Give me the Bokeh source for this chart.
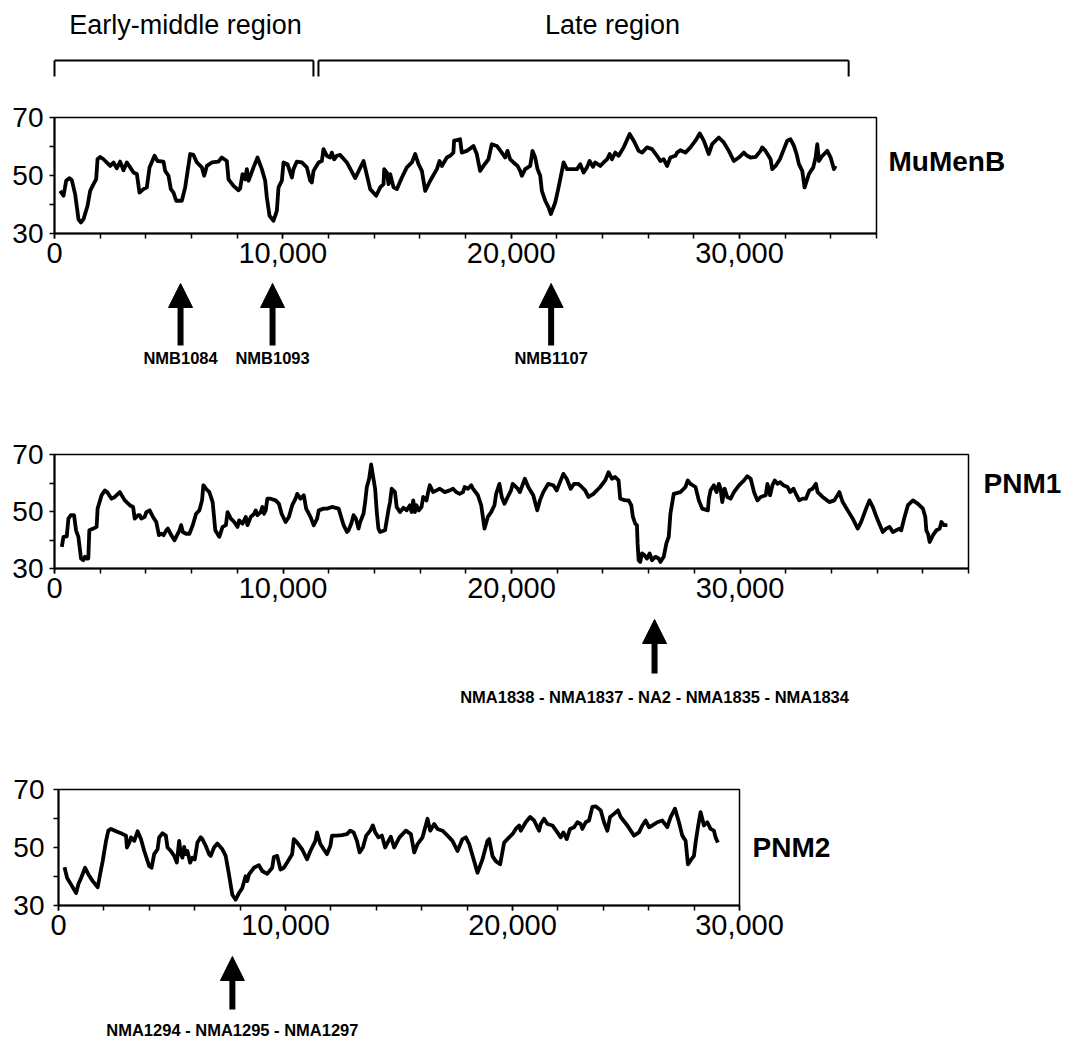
from bokeh.plotting import figure
from bokeh.layouts import column
from bokeh.models import (Range1d, FixedTicker, NumeralTickFormatter, Arrow, NormalHead,
                          LinearAxis)
from bokeh.embed import file_html
from bokeh.resources import INLINE
from bokeh.core.properties import value

# ---------------- data ----------------
x_major = [0, 10000, 20000, 30000]
y_major = [30, 50, 70]
y_minor = [40, 60]

mumenb_pos = [
    248, 394, 511, 657, 759, 905, 1051, 1153, 1270, 1445,
    1562, 1708, 1825, 1883, 2000, 2146, 2438, 2584, 2730, 2876,
    3022, 3168, 3314, 3460, 3606, 3723, 3898, 4044, 4161, 4380,
    4511, 4774, 4847, 4993, 5095, 5212, 5329, 5577, 5723, 5942,
    6088, 6234, 6453, 6555, 6672, 6891, 7183, 7329, 7548, 7621,
    7840, 8059, 8132, 8234, 8351, 8424, 8497, 8716, 8891, 9081,
    9227, 9300, 9417, 9592, 9738, 9811, 9957, 10030, 10205, 10395,
    10468, 10614, 10833, 11052, 11198, 11271, 11344, 11563, 11709, 11782,
    11928, 12074, 12147, 12249, 12366, 12512, 12804, 13169, 13534, 13826,
    14089, 14264, 14410, 14439, 14556, 14629, 14702, 14848, 14994, 15213,
    15432, 15651, 15797, 15943, 16089, 16235, 16454, 16746, 16863, 16965,
    17184, 17330, 17470, 17500, 17617, 17763, 17836, 18055, 18275, 18348,
    18494, 18640, 18786, 19006, 19152, 19371, 19590, 19737, 19839, 19956,
    20102, 20277, 20394, 20468, 20614, 20833, 20935, 21052, 21155, 21272,
    21345, 21491, 21637, 21739, 21930, 22076, 22222, 22295, 22441, 22880,
    23026, 23172, 23318, 23435, 23582, 23684, 23903, 24049, 24196, 24313,
    24415, 24561, 24707, 24927, 25190, 25365, 25584, 25731, 25950, 26169,
    26388, 26535, 26681, 26827, 26973, 27193, 27266, 27412, 27631, 27851,
    28070, 28260, 28435, 28654, 28801, 29093, 29312, 29532, 29751, 29970,
    30190, 30336, 30482, 30702, 30921, 30994, 31140, 31360, 31433, 31579,
    31769, 31944, 32090, 32237, 32383, 32500, 32602, 32748, 32851, 33041,
    33231, 33333, 33406, 33480, 33626, 33772, 33845, 33991, 34137, 34210,
]
mumenb_gc = [
    44.7, 43.0, 48.2, 49.1, 48.4, 43.5, 34.9, 33.8, 34.9, 39.5,
    44.7, 47.0, 48.7, 55.6, 56.4, 55.6, 53.3, 54.5, 52.5, 54.8,
    51.8, 54.5, 52.8, 51.0, 50.5, 44.1, 45.3, 45.9, 52.8, 56.8,
    55.0, 54.8, 51.6, 49.9, 45.3, 44.1, 41.3, 41.3, 45.9, 57.4,
    57.1, 54.5, 52.8, 49.9, 53.3, 54.5, 54.8, 56.2, 55.0, 48.7,
    46.4, 44.9, 45.6, 50.5, 48.7, 52.2, 48.2, 52.8, 56.2, 52.2,
    48.2, 42.4, 36.1, 34.4, 37.8, 45.9, 48.2, 54.5, 53.9, 49.3,
    52.2, 54.8, 54.5, 52.8, 48.2, 47.6, 51.6, 54.5, 55.0, 59.1,
    56.8, 56.2, 57.9, 55.6, 56.8, 57.1, 54.5, 49.1, 55.0, 45.3,
    43.0, 45.9, 47.0, 52.2, 51.0, 47.0, 50.5, 45.9, 45.3, 49.3,
    52.8, 54.5, 57.4, 53.9, 51.6, 44.7, 48.2, 52.2, 55.0, 53.3,
    56.2, 56.8, 57.9, 62.0, 62.2, 62.5, 57.9, 58.5, 59.7, 60.2,
    57.4, 51.6, 53.3, 55.6, 60.8, 60.2, 57.9, 56.2, 58.5, 55.6,
    54.5, 53.3, 51.6, 49.9, 52.2, 53.3, 58.5, 56.2, 52.2, 49.9,
    44.7, 41.3, 39.0, 36.7, 40.7, 45.9, 51.6, 54.5, 52.2, 52.2,
    53.9, 51.0, 52.8, 55.0, 53.0, 54.5, 53.3, 54.5, 55.6, 57.4,
    55.6, 57.9, 56.8, 59.7, 64.3, 62.0, 58.5, 57.9, 59.7, 59.1,
    56.8, 55.0, 55.6, 53.3, 56.2, 56.8, 57.9, 58.7, 57.9, 59.7,
    62.0, 64.5, 62.0, 57.4, 60.8, 63.1, 61.4, 58.5, 55.0, 56.2,
    57.9, 56.8, 56.2, 56.4, 58.5, 59.7, 58.5, 55.6, 52.2, 53.3,
    55.6, 59.1, 62.0, 62.5, 60.2, 57.4, 53.9, 51.6, 45.9, 50.5,
    52.8, 56.2, 60.8, 55.0, 56.8, 57.9, 58.5, 56.2, 52.2, 53.3,
]

pnm1_pos = [
    319, 392, 537, 609, 711, 856, 943, 1045, 1117, 1161,
    1262, 1335, 1407, 1480, 1524, 1698, 1843, 1886, 2060, 2206,
    2307, 2496, 2641, 2858, 3076, 3294, 3439, 3511, 3657, 3729,
    3802, 3947, 4019, 4164, 4309, 4455, 4571, 4672, 4774, 4890,
    4962, 5108, 5253, 5325, 5470, 5543, 5615, 5760, 5906, 6051,
    6196, 6341, 6457, 6515, 6631, 6776, 6921, 7037, 7211, 7357,
    7502, 7574, 7719, 7864, 8010, 8082, 8227, 8372, 8445, 8590,
    8735, 8807, 8880, 9025, 9098, 9170, 9243, 9315, 9461, 9678,
    9823, 9939, 10113, 10258, 10404, 10549, 10621, 10766, 10912, 11013,
    11202, 11347, 11492, 11565, 11782, 11927, 12145, 12435, 12653, 12798,
    12870, 12986, 13088, 13190, 13306, 13378, 13523, 13596, 13668, 13770,
    13857, 13959, 14031, 14104, 14176, 14249, 14466, 14539, 14612, 14684,
    14757, 14902, 14974, 15119, 15265, 15410, 15555, 15627, 15700, 15772,
    15845, 15946, 16063, 16135, 16280, 16353, 16425, 16570, 16716, 16861,
    17078, 17296, 17441, 17586, 17731, 17876, 17949, 18094, 18239, 18312,
    18529, 18674, 18819, 18964, 19110, 19255, 19327, 19472, 19574, 19690,
    19835, 19980, 20052, 20197, 20270, 20366, 20586, 20732, 20952, 21127,
    21244, 21391, 21610, 21830, 21976, 22123, 22269, 22416, 22591, 22738,
    22928, 23074, 23221, 23367, 23587, 23880, 24099, 24246, 24392, 24538,
    24685, 24758, 24978, 25124, 25241, 25314, 25417, 25490, 25519, 25563,
    25636, 25710, 25812, 25929, 26046, 26149, 26295, 26442, 26515, 26661,
    26778, 26881, 26954, 27100, 27393, 27613, 27715, 27832, 28052, 28198,
    28345, 28594, 28638, 28711, 28857, 28974, 29077, 29150, 29223, 29326,
    29443, 29589, 29736, 29955, 30175, 30321, 30468, 30614, 30760, 30907,
    31126, 31200, 31317, 31419, 31522, 31639, 31756, 31902, 32078, 32195,
    32342, 32444, 32517, 32590, 32737, 32883, 33030, 33176, 33322, 33396,
    33615, 33908, 34128, 34347, 34494, 34713, 34933, 35152, 35299, 35518,
    35665, 35811, 36031, 36250, 36397, 36543, 36690, 36836, 36982, 37056,
    37202, 37349, 37568, 37788, 38007, 38110, 38154, 38227, 38300, 38447,
    38593, 38740, 38813, 38930, 39076,
]
pnm1_gc = [
    37.6, 41.1, 41.3, 47.5, 48.7, 48.7, 43.4, 41.1, 36.4, 33.5,
    32.9, 34.1, 33.5, 33.5, 43.4, 44.0, 44.6, 51.0, 55.7, 57.4,
    56.8, 54.5, 55.1, 56.8, 53.9, 52.2, 51.6, 47.5, 48.7, 48.7,
    47.5, 48.1, 49.8, 50.4, 48.1, 46.3, 41.7, 42.2, 41.7, 43.4,
    44.0, 41.7, 39.9, 41.1, 43.4, 45.2, 42.8, 42.2, 42.2, 45.2,
    49.2, 50.4, 53.9, 59.2, 58.0, 56.8, 53.3, 43.4, 41.1, 44.6,
    45.2, 49.8, 47.5, 46.3, 44.6, 46.9, 45.7, 48.1, 45.2, 48.1,
    49.2, 50.4, 48.7, 49.8, 51.6, 49.2, 50.4, 54.5, 54.5, 53.9,
    52.7, 49.2, 46.3, 48.1, 52.2, 54.5, 56.2, 54.5, 55.7, 51.0,
    48.1, 45.2, 47.5, 50.4, 51.0, 51.0, 51.6, 51.0, 45.2, 42.8,
    43.4, 45.7, 48.7, 47.5, 44.0, 46.3, 49.2, 53.3, 58.6, 61.5,
    66.5, 61.5, 58.0, 49.8, 44.0, 42.8, 43.4, 46.9, 50.4, 53.3,
    58.0, 56.8, 51.6, 49.8, 51.3, 50.4, 52.2, 49.8, 53.9, 49.8,
    52.2, 50.4, 51.6, 55.1, 53.9, 56.8, 59.2, 56.8, 57.4, 58.0,
    56.8, 57.4, 58.0, 56.8, 56.2, 56.8, 58.6, 58.0, 59.2, 58.0,
    55.7, 52.2, 44.0, 48.1, 49.8, 52.2, 56.2, 59.7, 55.1, 52.7,
    55.1, 57.4, 59.7, 58.6, 58.0, 56.8, 61.5, 58.6, 55.7, 50.4,
    53.9, 56.8, 59.7, 59.2, 57.4, 60.3, 63.2, 61.5, 58.0, 59.7,
    59.7, 58.6, 57.4, 55.1, 56.2, 58.6, 60.9, 63.8, 61.5, 62.1,
    60.9, 54.5, 53.9, 53.9, 52.2, 48.1, 45.7, 45.2, 38.8, 32.9,
    32.3, 35.3, 34.7, 33.5, 35.3, 32.9, 34.1, 33.5, 32.3, 34.1,
    38.8, 41.1, 49.2, 56.2, 56.8, 58.6, 60.9, 59.7, 58.6, 53.9,
    51.0, 50.4, 54.5, 57.4, 59.2, 56.8, 59.7, 58.0, 53.3, 58.0,
    55.1, 54.5, 56.8, 59.2, 60.9, 62.4, 61.5, 56.8, 53.9, 55.1,
    55.7, 59.7, 55.7, 59.2, 60.9, 59.7, 60.3, 59.2, 58.6, 56.8,
    58.0, 56.2, 55.1, 53.9, 54.5, 54.5, 57.4, 58.0, 59.7, 56.8,
    55.1, 53.3, 53.9, 56.8, 53.3, 50.4, 47.5, 44.0, 46.3, 51.0,
    53.9, 51.6, 46.9, 42.8, 44.0, 44.6, 42.8, 43.4, 44.0, 43.4,
    48.1, 52.2, 53.9, 52.7, 51.0, 48.1, 43.4, 42.2, 39.3, 41.7,
    43.4, 44.0, 46.3, 45.2, 45.2,
]

pnm2_pos = [
    264, 381, 556, 776, 878, 996, 1171, 1318, 1508, 1728,
    1845, 1947, 2094, 2196, 2313, 2533, 2752, 2972, 3016, 3118,
    3192, 3338, 3484, 3631, 3777, 3997, 4099, 4216, 4363, 4436,
    4582, 4729, 4802, 4948, 5095, 5212, 5314, 5388, 5461, 5534,
    5607, 5680, 5797, 5900, 6002, 6120, 6266, 6339, 6486, 6632,
    6705, 6852, 6998, 7218, 7364, 7510, 7657, 7803, 7950, 8096,
    8242, 8316, 8389, 8608, 8828, 8974, 9194, 9414, 9487, 9633,
    9780, 9926, 10072, 10292, 10365, 10512, 10731, 10951, 11097, 11317,
    11390, 11536, 11683, 11829, 11976, 12049, 12268, 12488, 12708, 12854,
    13000, 13147, 13264, 13410, 13557, 13732, 13849, 13952, 14098, 14245,
    14391, 14538, 14640, 14786, 15021, 15303, 15523, 15670, 15817, 16037,
    16257, 16374, 16550, 16697, 16917, 17137, 17357, 17577, 17797, 17944,
    18091, 18311, 18457, 18677, 18897, 18971, 19117, 19264, 19455, 19631,
    19851, 19998, 20144, 20291, 20364, 20584, 20775, 20951, 21171, 21245,
    21391, 21538, 21758, 21978, 22125, 22242, 22389, 22536, 22712, 22858,
    23005, 23078, 23225, 23372, 23518, 23665, 23885, 24032, 24179, 24296,
    24472, 24648, 24765, 25059, 25352, 25572, 25719, 25866, 26012, 26159,
    26379, 26599, 26819, 26966, 27157, 27333, 27480, 27626, 27729, 27876,
    27993, 28066, 28169, 28286, 28360, 28433, 28580, 28726, 28873, 28946,
    29049,
]
pnm2_gc = [
    43.2, 39.5, 37.2, 34.3, 37.4, 39.5, 43.0, 40.7, 38.4, 36.3,
    41.3, 45.3, 52.3, 55.8, 56.4, 55.6, 54.9, 54.1, 50.0, 51.7,
    53.5, 52.3, 55.6, 52.9, 48.8, 43.6, 43.0, 47.7, 49.4, 53.5,
    54.9, 54.1, 50.0, 48.8, 47.1, 44.8, 52.3, 47.7, 46.5, 50.2,
    47.7, 48.8, 44.8, 46.5, 45.9, 51.7, 53.5, 52.9, 50.6, 47.7,
    47.1, 50.0, 51.4, 49.4, 47.1, 40.7, 33.7, 32.0, 34.3, 36.0,
    40.1, 38.4, 40.7, 43.0, 43.9, 41.9, 40.9, 43.0, 46.7, 47.1,
    42.4, 43.0, 44.8, 47.7, 52.9, 51.7, 49.4, 45.9, 48.8, 52.3,
    55.2, 51.2, 49.4, 47.7, 50.6, 54.1, 54.1, 54.3, 54.6, 55.8,
    55.2, 52.3, 48.3, 50.0, 54.1, 55.8, 57.6, 55.2, 53.5, 54.1,
    50.0, 52.3, 53.7, 50.0, 53.5, 55.8, 54.6, 48.3, 51.2, 53.5,
    59.9, 55.8, 58.1, 56.4, 55.8, 54.1, 52.3, 48.8, 52.9, 53.5,
    51.2, 45.3, 41.3, 45.9, 52.3, 52.9, 47.1, 45.3, 44.2, 51.7,
    53.5, 54.6, 56.4, 57.6, 55.8, 58.7, 60.5, 59.3, 55.8, 58.1,
    59.9, 58.1, 57.6, 55.2, 53.5, 55.2, 52.9, 56.4, 57.0, 58.7,
    58.1, 56.4, 58.7, 59.3, 64.0, 64.2, 62.8, 58.7, 55.8, 60.5,
    61.6, 62.8, 60.5, 57.6, 54.1, 55.2, 57.6, 59.3, 57.0, 57.6,
    58.7, 59.3, 57.0, 60.5, 63.4, 58.7, 54.1, 52.3, 44.2, 45.9,
    47.1, 51.7, 57.0, 62.2, 59.9, 57.6, 58.7, 56.4, 55.8, 53.5,
    51.7,
]

region_names = ["Early-middle region", "Late region"]
region_start = [0, 11560]
region_end = [11340, 34780]
region_label_x = [5740, 24440]

mumenb_genes = ["NMB1084", "NMB1093", "NMB1107"]
mumenb_gene_pos = [5520, 9550, 21750]
pnm1_genes = ["NMA1838 - NMA1837 - NA2 - NMA1835 - NMA1834"]
pnm1_gene_pos = [26260]
pnm2_genes = ["NMA1294 - NMA1295 - NMA1297"]
pnm2_gene_pos = [7660]

# ---------------- styling ----------------
FONT = "Liberation Sans"


def base_fig(fw, fh, xr, yr, left, right, top, bottom, axes=True):
    kw = dict(frame_width=fw, frame_height=fh, x_range=xr, y_range=yr, output_backend="svg",
              toolbar_location=None, title=None, min_border_left=left, min_border_right=right,
              min_border_top=top, min_border_bottom=bottom)
    if not axes:
        kw.update(x_axis_type=None, y_axis_type=None)
    p = figure(**kw)
    if hasattr(p, "frame_align"):
        p.frame_align = False   # keep each figure's own borders inside the column
    p.grid.visible = False
    p.background_fill_color = "white"
    p.border_fill_color = "white"
    if not axes:
        p.outline_line_color = None
    return p


def panel(pos, gc, xmax, left, fw, right, top, fh, bottom, name, name_y, name_pad, ylab_pad):
    p = base_fig(fw, fh, Range1d(0, xmax), Range1d(30, 70), left, right, top, bottom)
    p.outline_line_color = "black"
    p.outline_line_width = 1.5
    p.line(pos, gc, line_color="black", line_width=3.8, line_join="round")
    xa = p.xaxis[0]
    xa.ticker = FixedTicker(ticks=[t for t in x_major if t <= xmax],
                            minor_ticks=list(range(0, xmax + 1, 2000)))
    xa.formatter = NumeralTickFormatter(format="0,0")
    ya = p.yaxis[0]
    ya.ticker = FixedTicker(ticks=y_major, minor_ticks=y_minor)
    for ax in (xa, ya):
        ax.axis_line_color = "black"
        ax.axis_line_width = 2
        ax.major_tick_line_color = "black"
        ax.minor_tick_line_color = "black"
        ax.major_tick_line_width = 1.5
        ax.minor_tick_line_width = 1.5
        ax.major_tick_in = 0
        ax.minor_tick_in = 0
        ax.major_tick_out = 5
        ax.minor_tick_out = 5
        ax.major_label_text_font = FONT
        ax.major_label_text_color = "black"
    xa.major_label_text_font_size = "29px"
    ya.major_label_text_font_size = "28px"
    xa.major_label_standoff = 4
    ya.major_label_standoff = ylab_pad
    # genome name as the only label of a right-hand axis
    ra = LinearAxis(ticker=FixedTicker(ticks=[name_y], minor_ticks=[]),
                    major_label_overrides={name_y: name},
                    axis_line_color=None, major_tick_line_color=None,
                    minor_tick_line_color=None, major_tick_in=0, major_tick_out=0,
                    minor_tick_in=0, minor_tick_out=0,
                    major_label_standoff=name_pad, major_label_text_font=FONT,
                    major_label_text_font_style="bold", major_label_text_font_size="28px",
                    major_label_text_color="black")
    p.add_layout(ra, "right")
    return p


def arrows(xr, genes, gpos, left, fw, right, h, tip, tail, lab_y):
    p = base_fig(fw, h, xr, Range1d(h, 0), left, right, 0, 0, axes=False)
    for gx in gpos:
        p.add_layout(Arrow(end=NormalHead(size=24, fill_color="black", line_color="black", line_width=1),
                           x_start=gx, y_start=tail, x_end=gx, y_end=tip,
                           line_width=6, line_color="black"))
    p.text(x=gpos, y=[lab_y] * len(gpos), text=genes, text_font=value(FONT),
           text_font_style="bold", text_font_size="16.5px", text_align="center",
           text_baseline="middle", text_color="black")
    return p


# panel 1 (MuMenB)
L1, FW1, R1 = 54, 822, 180
p1 = panel(mumenb_pos, mumenb_gc, 36000, L1, FW1, R1, 17, 116, 47, "MuMenB", 55, 12, 6)

# bracket figure above panel 1 (same x scale as panel 1)
ext = L1 * 36000 / FW1
pa = base_fig(L1 + FW1, 100, Range1d(-ext, 36000), Range1d(100, 0), 0, R1, 0, 0, axes=False)
pa.segment(x0=region_start, y0=[60] * 2, x1=region_end, y1=[60] * 2, line_color="black", line_width=2)
pa.segment(x0=region_start, y0=[60] * 2, x1=region_start, y1=[76] * 2, line_color="black", line_width=2)
pa.segment(x0=region_end, y0=[60] * 2, x1=region_end, y1=[76] * 2, line_color="black", line_width=2)
pa.text(x=region_label_x, y=[24] * 2, text=region_names, text_font=value(FONT),
        text_font_size="27px", text_align="center", text_baseline="middle", text_color="black")

pc = arrows(p1.x_range, mumenb_genes, mumenb_gene_pos, L1, FW1, R1, 120, 3, 65, 77)

# panel 2 (PNM1)
L2, FW2, R2 = 54, 914, 100
p2 = panel(pnm1_pos, pnm1_gc, 40000, L2, FW2, R2, 54, 114, 47, "PNM1", 60, 15, 6)
pe = arrows(p2.x_range, pnm1_genes, pnm1_gene_pos, L2, FW2, R2, 125, 4, 58, 81)

# panel 3 (PNM2)
L3, FW3, R3 = 58, 681, 150
p3 = panel(pnm2_pos, pnm2_gc, 30000, L3, FW3, R3, 49, 116, 46, "PNM2", 50, 13, 9)
pg = arrows(p3.x_range, pnm2_genes, pnm2_gene_pos, L3, FW3, R3, 89, 5, 58, 78)

layout = column(pa, p1, pc, p2, pe, p3, pg, spacing=0)
open("out.html", "w").write(file_html(layout, INLINE))
